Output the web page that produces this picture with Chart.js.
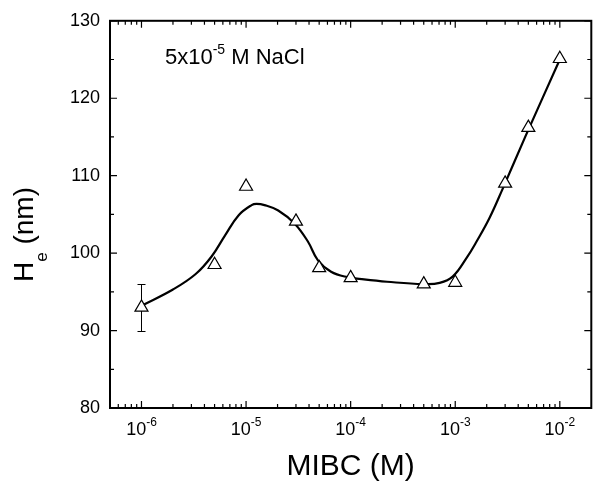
<!DOCTYPE html>
<html>
<head>
<meta charset="utf-8">
<script src="https://cdn.jsdelivr.net/npm/chart.js@4/dist/chart.umd.min.js"></script>
<style>
  html, body { margin: 0; padding: 0; background: #fff; overflow: hidden; }
  #wrap { width: 594px; height: 482px; overflow: hidden; }
</style>
</head>
<body>
<div id="wrap"><canvas id="chart" width="600" height="482"></canvas></div>
<script>
// measured points: MIBC concentration (M) vs He (nm)
const mibc = [1e-6, 5e-6, 1e-5, 3e-5, 5e-5, 1e-4, 5e-4, 1e-3, 3e-3, 5e-3, 1e-2];
const he = [93.0, 98.5, 108.6, 104.1, 98.1, 96.8, 96.0, 96.2, 109.0, 116.2, 125.1];
const heErr = [3, 0, 0, 0, 0, 0, 0, 0, 0, 0, 0];

// smooth guide curve
const fitX = [1e-6, 2e-6, 3.3e-6, 4.7e-6, 6.3e-6, 8.5e-6, 1.13e-5, 1.26e-5, 1.5e-5, 2.03e-5,
  2.92e-5, 3.9e-5, 4.85e-5, 6.5e-5, 9.3e-5, 1.34e-4, 2.23e-4, 4.97e-4, 7.1e-4, 9.5e-4,
  1.28e-3, 1.6e-3, 2.12e-3, 2.84e-3, 4.7e-3, 1e-2];
const fitY = [93.2, 95.3, 97.3, 99.6, 102.3, 104.9, 106.2, 106.35, 106.2, 105.5,
  103.8, 101.5, 99.1, 97.6, 96.9, 96.6, 96.3, 96.0, 96.15, 97.0,
  99.35, 101.5, 104.5, 108.3, 115.1, 125.0];

const xTickValues = [1e-6, 1e-5, 1e-4, 1e-3, 1e-2];
const xTickExp = ['-6', '-5', '-4', '-3', '-2'];

const FONT = '"Liberation Sans", Arial, sans-serif';

const errorBars = {
  id: 'errorBars',
  beforeDatasetsDraw(chart) {
    const ctx = chart.ctx, xs = chart.scales.x, ys = chart.scales.y;
    ctx.save();
    ctx.strokeStyle = '#000';
    ctx.lineWidth = 1;
    mibc.forEach((m, i) => {
      if (!heErr[i]) return;
      const x = Math.round(xs.getPixelForValue(m)) + 0.5;
      const top = Math.round(ys.getPixelForValue(he[i] + heErr[i])) + 0.5;
      const bot = Math.round(ys.getPixelForValue(he[i] - heErr[i])) + 0.5;
      ctx.beginPath();
      ctx.moveTo(x, top); ctx.lineTo(x, bot);
      ctx.moveTo(x - 4, top); ctx.lineTo(x + 4, top);
      ctx.moveTo(x - 4, bot); ctx.lineTo(x + 4, bot);
      ctx.stroke();
    });
    ctx.restore();
  }
};

const frame = {
  id: 'frame',
  afterDraw(chart) {
    const ctx = chart.ctx, a = chart.chartArea;
    const xs = chart.scales.x, ys = chart.scales.y;
    ctx.save();
    ctx.strokeStyle = '#000';

    // ticks, pointing inward on all four sides
    ctx.lineWidth = 1.2;
    ctx.beginPath();
    const xTick = (v, len) => {
      const x = xs.getPixelForValue(v);
      ctx.moveTo(x, a.bottom); ctx.lineTo(x, a.bottom - len);
      ctx.moveTo(x, a.top); ctx.lineTo(x, a.top + len);
    };
    xTickValues.forEach(v => xTick(v, 7));
    for (let d = -7; d <= -2; d++) {
      for (let m = 2; m <= 9; m++) {
        const v = m * Math.pow(10, d);
        if (v > xs.min * 1.001 && v < xs.max * 0.999) xTick(v, 4);
      }
    }
    for (let v = 80; v <= 130; v += 5) {
      const y = ys.getPixelForValue(v);
      const len = v % 10 === 0 ? 7 : 4;
      ctx.moveTo(a.left, y); ctx.lineTo(a.left + len, y);
      ctx.moveTo(a.right, y); ctx.lineTo(a.right - len, y);
    }
    ctx.stroke();

    ctx.lineWidth = 2;
    ctx.strokeRect(a.left, a.top, a.right - a.left, a.bottom - a.top);

    ctx.fillStyle = '#000';
    ctx.textBaseline = 'alphabetic';

    // x tick labels 10^n
    xTickValues.forEach((v, i) => {
      const x = xs.getPixelForValue(v);
      ctx.font = '18px ' + FONT;
      const wBase = ctx.measureText('10').width;
      ctx.font = '12px ' + FONT;
      const wExp = ctx.measureText(xTickExp[i]).width;
      const x0 = x - (wBase + wExp) / 2;
      ctx.textAlign = 'left';
      ctx.font = '18px ' + FONT;
      ctx.fillText('10', x0, 435);
      ctx.font = '12px ' + FONT;
      ctx.fillText(xTickExp[i], x0 + wBase, 426);
    });

    // x title
    ctx.font = '30px ' + FONT;
    ctx.textAlign = 'center';
    ctx.fillText('MIBC (M)', (a.left + a.right) / 2, 475);

    // y title with subscript
    ctx.save();
    ctx.translate(33, 282);
    ctx.rotate(-Math.PI / 2);
    ctx.textAlign = 'left';
    ctx.font = '28px ' + FONT;
    ctx.fillText('H', 0, 0);
    let off = ctx.measureText('H').width;
    ctx.font = '17px ' + FONT;
    ctx.fillText('e', off, 14);
    off += ctx.measureText('e').width;
    ctx.font = '28px ' + FONT;
    ctx.fillText(' (nm)', off, 0);
    ctx.restore();

    // annotation
    ctx.textAlign = 'left';
    ctx.font = '22px ' + FONT;
    ctx.fillText('5x10', 165, 64);
    let ax = 165 + ctx.measureText('5x10').width;
    ctx.font = '14px ' + FONT;
    ctx.fillText('-5', ax, 54);
    ax += ctx.measureText('-5').width;
    ctx.font = '22px ' + FONT;
    ctx.fillText(' M NaCl', ax, 64);

    ctx.restore();
  }
};

new Chart(document.getElementById('chart').getContext('2d'), {
  type: 'line',
  data: {
    datasets: [
      {
        label: 'He',
        data: mibc.map((m, i) => ({ x: m, y: he[i] })),
        showLine: false,
        pointStyle: 'triangle',
        pointRadius: 7.5,
        pointHoverRadius: 7.5,
        pointBorderWidth: 1.2,
        pointBorderColor: '#000',
        pointBackgroundColor: '#fff'
      },
      {
        label: 'fit',
        data: fitX.map((m, i) => ({ x: m, y: fitY[i] })),
        borderColor: '#000',
        borderWidth: 2.2,
        pointRadius: 0,
        tension: 0.4,
        fill: false
      }
    ]
  },
  options: {
    responsive: false,
    animation: false,
    layout: { padding: { top: 17, right: 4, left: 0, bottom: 0 } },
    plugins: { legend: { display: false }, tooltip: { enabled: false } },
    scales: {
      x: {
        type: 'logarithmic',
        min: 5e-7,
        max: 2e-2,
        grid: { display: false, drawTicks: false },
        border: { display: false },
        ticks: { display: false },
        afterFit(s) { s.height = 74; }
      },
      y: {
        min: 80,
        max: 130,
        grid: { display: false, drawTicks: false },
        border: { display: false },
        ticks: { stepSize: 10, padding: 10, color: '#000', font: { family: FONT, size: 18 } },
        afterFit(s) { s.width = 110; }
      }
    }
  },
  plugins: [errorBars, frame]
});
</script>
</body>
</html>
